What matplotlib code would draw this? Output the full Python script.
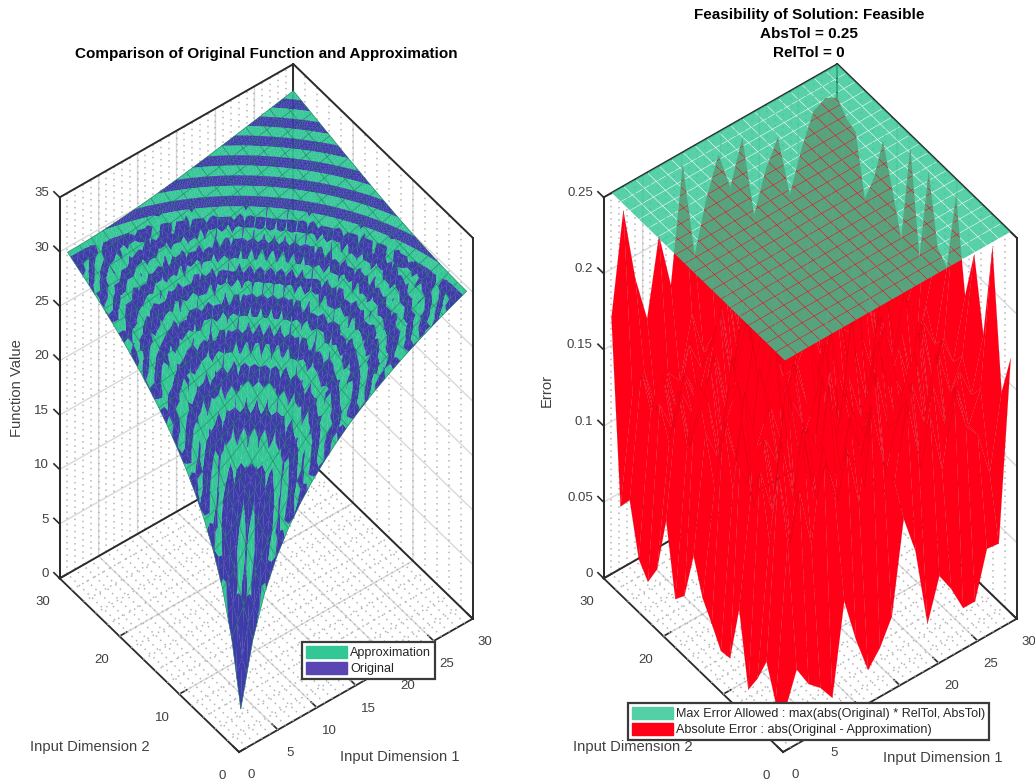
"""Original vs approximation surfaces and the error surface against the tolerance plate."""
import numpy as np
import matplotlib
matplotlib.use("Agg")
import matplotlib.pyplot as plt
from matplotlib.patches import Patch
from matplotlib.transforms import ScaledTranslation
from mpl_toolkits.mplot3d import proj3d
from mpl_toolkits.mplot3d.art3d import Poly3DCollection

plt.rcParams["font.family"] = ["Liberation Sans", "DejaVu Sans"]
plt.rcParams["grid.color"] = "#d9d9d9"
plt.rcParams["grid.linewidth"] = 1.0

INPUT_GRID = [1.0, 2.526, 4.053, 5.579, 7.105, 8.632, 10.158, 11.684, 13.211, 14.737,
              16.263, 17.789, 19.316, 20.842, 22.368, 23.895, 25.421, 26.947, 28.474, 30.0]

# upper triangle of the surface, it mirrors across the x=y diagonal
ORIGINAL_UPPER = [
    [3.01, 8.68, 12.41, 15.07, 17.12, 18.78, 20.18, 21.38, 22.44, 23.39, 24.24, 25.02, 25.73, 26.39, 27.00, 27.57, 28.11, 28.62, 29.09, 29.55],
    [11.06, 13.58, 15.74, 17.55, 19.08, 20.40, 21.55, 22.57, 23.49, 24.33, 25.09, 25.79, 26.44, 27.05, 27.61, 28.15, 28.65, 29.12, 29.57],
    [15.17, 16.77, 18.26, 19.59, 20.78, 21.85, 22.81, 23.68, 24.49, 25.22, 25.91, 26.54, 27.13, 27.69, 28.21, 28.71, 29.18, 29.62],
    [17.94, 19.12, 20.24, 21.28, 22.24, 23.13, 23.95, 24.71, 25.41, 26.07, 26.68, 27.25, 27.80, 28.31, 28.79, 29.25, 29.69],
    [20.04, 20.97, 21.87, 22.72, 23.52, 24.28, 24.98, 25.65, 26.27, 26.86, 27.41, 27.93, 28.43, 28.90, 29.35, 29.78],
    [21.73, 22.50, 23.24, 23.96, 24.65, 25.30, 25.92, 26.51, 27.07, 27.60, 28.10, 28.58, 29.03, 29.47, 29.89],
    [23.15, 23.80, 24.44, 25.06, 25.65, 26.23, 26.78, 27.30, 27.81, 28.29, 28.75, 29.19, 29.61, 30.01],
    [24.36, 24.93, 25.49, 26.03, 26.56, 27.07, 27.57, 28.04, 28.50, 28.94, 29.36, 29.76, 30.16],
    [25.43, 25.93, 26.43, 26.91, 27.38, 27.85, 28.29, 28.72, 29.14, 29.55, 29.94, 30.31],
    [26.38, 26.83, 27.27, 27.71, 28.14, 28.56, 28.97, 29.36, 29.75, 30.12, 30.48],
    [27.23, 27.64, 28.05, 28.44, 28.84, 29.22, 29.59, 29.96, 30.32, 30.66],
    [28.01, 28.39, 28.76, 29.12, 29.48, 29.84, 30.18, 30.52, 30.85],
    [28.73, 29.07, 29.41, 29.75, 30.08, 30.41, 30.73, 31.05],
    [29.39, 29.71, 30.02, 30.34, 30.65, 30.95, 31.25],
    [30.00, 30.30, 30.59, 30.89, 31.18, 31.46],
    [30.58, 30.85, 31.13, 31.40, 31.68],
    [31.11, 31.37, 31.63, 31.89],
    [31.62, 31.87, 32.11],
    [32.10, 32.33],
    [32.55],
]
# rows follow input dimension 2, columns input dimension 1
ABS_ERROR = [
    [.02, .043, .029, .022, .011, .07, .04, .016, .026, .042, .102, .076, .024, .051, .038, .021, .021, .051, .05, .167],
    [.02, .12, .15, .11, .17, .13, .16, .12, .18, .14, .12, .17, .13, .15, .11, .16, .13, .12, .09, .139],
    [.041, .16, .11, .18, .13, .15, .12, .17, .14, .19, .12, .15, .17, .11, .16, .13, .15, .12, .14, .228],
    [.024, .11, .17, .13, .16, .12, .19, .13, .15, .11, .18, .14, .12, .16, .13, .17, .11, .15, .13, .165],
    [.011, .15, .12, .18, .11, .16, .14, .12, .17, .15, .13, .19, .11, .15, .17, .12, .16, .13, .15, .212],
    [.058, .13, .16, .12, .19, .14, .11, .18, .13, .16, .12, .14, .17, .13, .11, .18, .12, .16, .14, .179],
    [.02, .17, .11, .15, .13, .17, .15, .12, .19, .11, .16, .13, .15, .18, .14, .12, .17, .13, .15, .239],
    [.019, .12, .18, .14, .16, .11, .18, .13, .15, .17, .12, .19, .11, .16, .13, .15, .12, .16, .14, .186],
    [.031, .16, .13, .11, .18, .15, .12, .17, .14, .11, .18, .13, .16, .12, .17, .14, .15, .11, .16, .193],
    [.042, .11, .15, .17, .12, .14, .19, .11, .16, .18, .13, .15, .12, .19, .11, .16, .13, .17, .13, .237],
    [.064, .14, .12, .16, .13, .18, .12, .15, .13, .17, .11, .16, .18, .13, .15, .12, .18, .12, .15, .175],
    [.032, .17, .15, .11, .17, .13, .16, .19, .12, .14, .16, .12, .15, .17, .11, .18, .13, .15, .16, .241],
    [.024, .12, .14, .16, .11, .15, .18, .12, .17, .13, .19, .14, .11, .16, .14, .13, .17, .12, .14, .176],
    [.07, .15, .11, .13, .16, .12, .14, .17, .11, .16, .12, .18, .15, .12, .17, .15, .11, .16, .15, .203],
    [.032, .11, .14, .12, .13, .15, .11, .16, .14, .19, .13, .15, .12, .18, .13, .16, .14, .13, .16, .228],
    [.018, .13, .11, .14, .12, .13, .17, .12, .15, .12, .17, .11, .16, .14, .12, .17, .12, .15, .13, .198],
    [.027, .12, .14, .10, .13, .11, .14, .16, .11, .16, .13, .18, .12, .15, .17, .11, .16, .12, .14, .179],
    [.06, .14, .11, .13, .10, .14, .12, .13, .17, .12, .15, .11, .16, .13, .12, .17, .14, .13, .15, .217],
    [.05, .12, .13, .10, .12, .11, .15, .12, .13, .16, .12, .17, .13, .16, .14, .13, .17, .15, .14, .22],
    [.168, .234, .185, .154, .204, .167, .241, .178, .211, .235, .209, .237, .182, .208, .224, .182, .208, .228, .232, .228],
]
ABS_TOL = 0.25

X_TICKS = [0, 5, 10, 15, 20, 25, 30]
Y_TICKS = [0, 10, 20, 30]
Z_TICKS_FUNC = [0, 5, 10, 15, 20, 25, 30, 35]
Z_TICKS_ERR = [0, 0.05, 0.1, 0.15, 0.2, 0.25]
Z_LABELS_ERR = ["0", "0.05", "0.1", "0.15", "0.2", "0.25"]

# the two coincident surfaces fight in the depth buffer: arcs around the origin,
# flipped below HEIGHT_PLAIN by a second family of U shaped bands
ARC_BAND = 2.0
HEIGHT_PLAIN = 29.2
HEIGHT_TIP = 20.0
U_BAND = 0.75
BLUE_BIAS_TOP = 0.004
BLUE_BIAS_MID = 0.005
BLUE_BIAS_TIP = 0.014

W, H = 1035, 779
GREEN, BLUE, RED = "#33c796", "#3d3ca8", "#ff0016"
INK, TEXT = "#2b2b2b", "#404040"


def mirror(rows):
    n = len(rows)
    out = np.zeros((n, n))
    for i, r in enumerate(rows):
        out[i, i:] = r
        out[i:, i] = r
    return out


def wave(t):
    return abs(t % 1 - 0.5) - 0.25


def fight(p):
    arcs = wave(np.hypot(p[0], p[1]) / ARC_BAND)
    if p[2] >= HEIGHT_PLAIN:
        return arcs * 0.25 - BLUE_BIAS_TOP * 0.25
    bias = BLUE_BIAS_MID if p[2] >= HEIGHT_TIP else BLUE_BIAS_TIP
    return arcs * wave(np.log(p[0] * p[1]) / U_BAND) - bias * 0.25


def refine(tri, level):
    if level == 0:
        return [tri]
    a, b, e = tri
    ab, be, ea = (a + b) / 2, (b + e) / 2, (e + a) / 2
    out = []
    for t in ((a, ab, ea), (ab, b, be), (ea, be, e), (ab, be, ea)):
        out += refine(t, level - 1)
    return out


def split(tri, d):
    """Cut a triangle where d crosses zero."""
    pos, neg = [], []
    for k in range(3):
        a, b = tri[k], tri[(k + 1) % 3]
        da, db = d[k], d[(k + 1) % 3]
        (pos if da > 0 else neg).append(a)
        if (da > 0) != (db > 0):
            p = a + (b - a) * da / (da - db)
            pos.append(p)
            neg.append(p)
    return pos, neg


def setup(ax, zlim, zticks, zlabels, corner_px):
    ax.computed_zorder = False
    ax.patch.set_visible(False)
    ax.view_init(elev=48, azim=-127.5)
    ax.set_proj_type("ortho")
    ax.set_box_aspect((1, 1, 1.933), zoom=0.8)
    ax.set_xlim(0, 30)
    ax.set_ylim(0, 30)
    ax.set_zlim(*zlim)
    ax.set_xticks(X_TICKS)
    ax.set_yticks(Y_TICKS)
    ax.set_zticks(zticks)
    if zlabels:
        ax.set_zticklabels(zlabels)
    for axis in (ax.xaxis, ax.yaxis, ax.zaxis):
        axis.set_pane_color((1, 1, 1, 1))
        axis.line.set_color(INK)
        axis.line.set_linewidth(1.3)
        axis._axinfo["tick"].update({"inward_factor": 0.0, "outward_factor": 0.4})
        axis._axinfo["tick"]["linewidth"] = {True: 1.2, False: 0.5}
    ax.zaxis._get_tickdir = lambda position: 1
    for name in "xyz":
        ax.tick_params(axis=name, labelsize=9.5, labelcolor=TEXT, color=INK, pad=2)

    # dotted minor grid on the floor and both back walls
    dots = dict(color="#b5b5b5", lw=1.1, ls=(0, (1, 3)), zorder=1)
    for v in range(1, 30):
        ax.plot([v, v], [0, 30], [zlim[0], zlim[0]], **dots)
        ax.plot([v, v], [30, 30], zlim, **dots)
    for v in range(2, 30, 2):
        ax.plot([0, 30], [v, v], [zlim[0], zlim[0]], **dots)
        ax.plot([30, 30], [v, v], zlim, **dots)

    # box edges sit on top of the gridlines
    z0, z1 = zlim
    edges = dict(color=INK, lw=1.4, zorder=1.5, solid_capstyle="projecting")
    ax.plot([0, 30, 30], [30, 30, 0], [z1, z1, z1], **edges)
    ax.plot([0, 30, 30], [30, 30, 0], [z0, z0, z0], **edges)
    for cx, cy in ((0, 30), (30, 30), (30, 0)):
        ax.plot([cx, cx], [cy, cy], [z0, z1], **edges)

    # put the box where the reference has it
    M = ax.get_proj()
    xs, ys, _ = proj3d.proj_transform(np.array([0, 30, 0.]), np.array([0, 0, 30.]),
                                      np.array([zlim[0]] * 3), M)
    targ = np.array(corner_px, float)
    scale = (targ[1, 0] - targ[2, 0]) / (xs[1] - xs[2])
    xl, yl = ax.viewLim.intervalx, ax.viewLim.intervaly
    side = scale * (xl[1] - xl[0])
    left = targ[0, 0] - scale * (xs[0] - xl[0])
    bottom = (H - targ[0, 1]) - scale * (ys[0] - yl[0])
    ax.set_position([left / W, bottom / H, side / W, side / H])


def nudge(ax, axis, dx, dy, ha=None):
    # Axis3D resets the label transform whenever it fetches its ticks, so wrap that call
    off = ScaledTranslation(dx / 100, dy / 100, ax.figure.dpi_scale_trans)
    fetch = axis.get_major_ticks

    def get_major_ticks(numticks=None):
        ticks = fetch(numticks)
        for tick in ticks:
            tick.label1.set_transform(ax.transData + off)
            if ha:
                tick.label1.set_horizontalalignment(ha)
        return ticks

    axis.get_major_ticks = get_major_ticks


def nudge_ticks(ax):
    nudge(ax, ax.xaxis, 7, 0)
    nudge(ax, ax.yaxis, -10, -2)
    nudge(ax, ax.zaxis, 2, 9, "right")


def pixel_text(fig, x, y, s, **kw):
    fig.text(x / W, 1 - y / H, s, ha="center", va="center", **kw)


def set_title(ax, x, y, s):
    t = ax.set_title(s, fontsize=11, fontweight="bold", color="black", y=1.0, linespacing=1.43)
    t.set_transform(ax.figure.transFigure)
    t.set_position((x / W, 1 - y / H))
    t.set_verticalalignment("center")


def legend(ax, handles, x, y, size):
    leg = ax.legend(handles=handles, loc="lower left", bbox_to_anchor=(x / W, 1 - y / H),
                    bbox_transform=ax.figure.transFigure, fancybox=False, framealpha=1,
                    edgecolor="#3a3a3a", fontsize=size, handlelength=3.25, handleheight=1.15,
                    handletextpad=0.25, labelspacing=0.2, borderpad=0.3, borderaxespad=0,
                    labelcolor="#262626")
    leg.get_frame().set_linewidth(1.6)
    leg.set_zorder(20)


fig = plt.figure(figsize=(W / 100, H / 100), dpi=100)
grid = np.array(INPUT_GRID)
X, Y = np.meshgrid(grid, grid)
original = mirror(ORIGINAL_UPPER)
error = np.array(ABS_ERROR)

# left panel
ax = fig.add_subplot(projection="3d")
setup(ax, (0, 35), Z_TICKS_FUNC, None, [(239, 752), (472, 619), (59, 578)])
polys, cols = [], []
for j in range(19):
    for i in range(19):
        c = [(j, i), (j, i + 1), (j + 1, i + 1), (j + 1, i)]
        for tri_idx in ((c[0], c[1], c[2]), (c[0], c[2], c[3])):
            corner = [np.array([X[k], Y[k], original[k]]) for k in tri_idx]
            level = 2 if original[c[0]] > HEIGHT_PLAIN else 1
            for tri in refine(corner, level):
                pos, neg = split(tri, [fight(p) for p in tri])
                if len(pos) >= 3:
                    polys.append(pos)
                    cols.append(GREEN)
                if len(neg) >= 3:
                    polys.append(neg)
                    cols.append(BLUE)
ax.add_collection3d(Poly3DCollection(polys, facecolors=cols, edgecolors=cols, linewidths=0.15, zorder=2))
ax.plot_wireframe(X, Y, original, rstride=1, cstride=1, color="#1c7a5e", linewidth=0.5, alpha=0.75, zorder=3)
set_title(ax, 266, 54, "Comparison of Original Function and Approximation")
legend(ax, [Patch(color=GREEN, label="Approximation"), Patch(color="#5b45b3", label="Original")], 302, 679, 9.1)
nudge_ticks(ax)
pixel_text(fig, 400, 757, "Input Dimension 1", fontsize=10.6, color=TEXT)
pixel_text(fig, 90, 747, "Input Dimension 2", fontsize=10.6, color=TEXT)
pixel_text(fig, 17, 388, "Function Value", fontsize=10.6, color=TEXT, rotation=90)

# right panel
ax2 = fig.add_subplot(projection="3d")
setup(ax2, (0, 0.25), Z_TICKS_ERR, Z_LABELS_ERR, [(783, 752), (1016, 619), (603, 578)])
ax2.plot_surface(X, Y, error, rstride=1, cstride=1, color=RED, edgecolor="#c0000f", linewidth=0.1,
                 shade=False, zorder=2)
gap = 0.03
plate = []
for j in range(19):
    for i in range(19):
        plate.append([(grid[i] + gap, grid[j] + gap, ABS_TOL), (grid[i + 1] - gap, grid[j] + gap, ABS_TOL),
                      (grid[i + 1] - gap, grid[j + 1] - gap, ABS_TOL), (grid[i] + gap, grid[j + 1] - gap, ABS_TOL)])
ax2.add_collection3d(Poly3DCollection(plate, facecolors=(0.2, 0.78, 0.59, 0.82), edgecolors="none", zorder=3))
set_title(ax2, 809, 34, "Feasibility of Solution: Feasible\nAbsTol = 0.25\nRelTol = 0")
legend(ax2, [Patch(color="#55d0a6", label="Max Error Allowed : max(abs(Original) * RelTol, AbsTol)"),
             Patch(color=RED, label="Absolute Error : abs(Original - Approximation)")], 628, 740, 9.1)
nudge_ticks(ax2)
pixel_text(fig, 943, 758, "Input Dimension 1", fontsize=10.6, color=TEXT)
pixel_text(fig, 633, 747, "Input Dimension 2", fontsize=10.6, color=TEXT)
pixel_text(fig, 547, 390, "Error", fontsize=10.6, color=TEXT, rotation=90)

fig.savefig("out.png", dpi=100)
